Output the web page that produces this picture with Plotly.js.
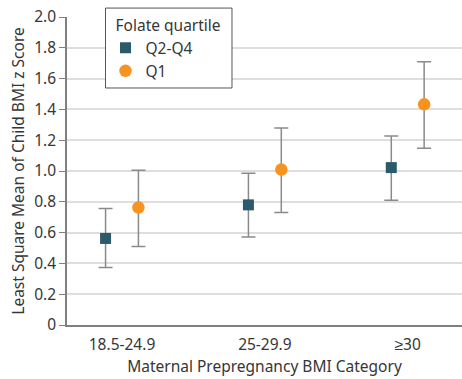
<!DOCTYPE html>
<html><head><meta charset="utf-8">
<script src="https://cdn.plot.ly/plotly-3.0.1.min.js"></script>
<style>html,body{margin:0;padding:0;background:#fff}#chart{width:462px;height:379px}</style>
</head><body><div id="chart"></div>
<script>
const categories = ['18.5-24.9', '25-29.9', '≥30'];
const q24Mean = [0.562, 0.780, 1.022];
const q24Upper = [0.757, 0.986, 1.227];
const q24Lower = [0.373, 0.572, 0.810];
const q1Mean = [0.763, 1.009, 1.433];
const q1Upper = [1.005, 1.280, 1.710];
const q1Lower = [0.510, 0.731, 1.147];
const yTickVals = [0, 0.2, 0.4, 0.6, 0.8, 1.0, 1.2, 1.4, 1.6, 1.8, 2.0];
const yTickText = ['0', '0.2', '0.4', '0.6', '0.8', '1.0', '1.2', '1.4', '1.6', '1.8', '2.0'];

const FONT = 'Noto Sans, sans-serif';
const FS = 15.5;
const TXT = '#363636';
function errs(mean, up, lo) {
  return {
    type: 'data', symmetric: false,
    array: up.map((u, i) => u - mean[i]),
    arrayminus: lo.map((l, i) => mean[i] - l),
    color: '#8a8a8a', thickness: 1.5, width: 7
  };
}
const traces = [
  {type: 'scatter', mode: 'markers', name: 'Q2-Q4', x: categories, y: q24Mean,
   marker: {symbol: 'square', size: 11, color: '#2d5a6a'},
   error_y: errs(q24Mean, q24Upper, q24Lower)},
  {type: 'scatter', mode: 'markers', name: 'Q1', x: categories, y: q1Mean,
   marker: {symbol: 'circle', size: 12.5, color: '#f7931e'},
   error_y: errs(q1Mean, q1Upper, q1Lower)}
];
const layout = {
  width: 462, height: 379,
  margin: {l: 67, r: 0, t: 17, b: 54},
  paper_bgcolor: '#fff', plot_bgcolor: '#fff',
  font: {family: FONT, size: FS, color: TXT},
  scattermode: 'group', scattergap: 0.54,
  showlegend: true,
  legend: {x: 0.0975, y: 1.0195, xanchor: 'left', yanchor: 'top',
    borderwidth: 0, bgcolor: 'rgba(0,0,0,0)',
    title: {text: '\u00a0\u00a0Folate quartile', font: {size: FS, color: TXT}},
    font: {size: FS, color: TXT}, traceorder: 'normal', itemwidth: 30},
  shapes: [{type: 'rect', xref: 'paper', yref: 'paper', layer: 'above',
    x0: 0.0975, x1: 0.4177, y0: 0.7695, y1: 1.029,
    line: {color: '#555', width: 1}, fillcolor: '#fff'}],
  xaxis: {type: 'category', range: [-0.385, 2.38], showgrid: false, zeroline: false,
    showline: true, linecolor: '#808080', linewidth: 1.5, ticks: '',
    ticklabelstandoff: 5,
    tickfont: {size: FS, color: TXT},
    title: {text: 'Maternal Prepregnancy BMI Category', font: {size: FS, color: TXT}, standoff: 7}},
  yaxis: {range: [0, 2.0], tickvals: yTickVals, ticktext: yTickText,
    showgrid: true, gridcolor: '#dedede', gridwidth: 1.5, zeroline: false,
    showline: true, linecolor: '#808080', linewidth: 1.5, ticks: 'outside', ticklen: 6, tickcolor: '#808080',
    tickfont: {size: FS, color: TXT},
    title: {text: 'Least Square Mean of Child BMI z Score', font: {size: FS, color: TXT}, standoff: 6}}
};
Plotly.newPlot('chart', traces, layout, {displayModeBar: false});
</script></body></html>
